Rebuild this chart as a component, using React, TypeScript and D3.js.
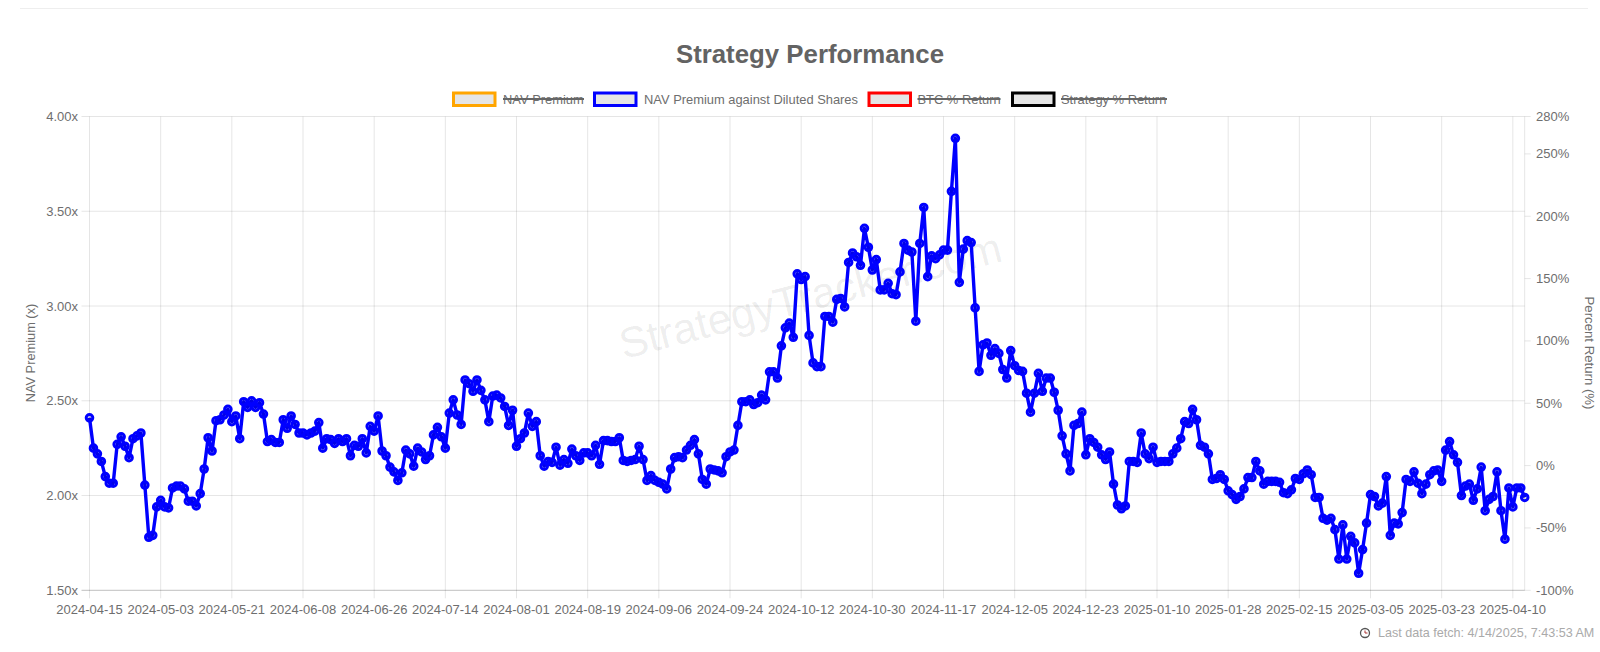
import React from "react";
import * as d3 from "d3";

const title = "Strategy Performance";
const tickDates = ["2024-04-15","2024-05-03","2024-05-21","2024-06-08","2024-06-26","2024-07-14","2024-08-01","2024-08-19","2024-09-06","2024-09-24","2024-10-12","2024-10-30","2024-11-17","2024-12-05","2024-12-23","2025-01-10","2025-01-28","2025-02-15","2025-03-05","2025-03-23","2025-04-10"];
const leftTicks = [1.5, 2, 2.5, 3, 3.5, 4];
const rightTicks = [-100, -50, 0, 50, 100, 150, 200, 250, 280];
const legendItems = [
  { label: "NAV Premium", color: "#ffa500", hidden: true },
  { label: "NAV Premium against Diluted Shares", color: "#0000ff", hidden: false },
  { label: "BTC % Return", color: "#ff0000", hidden: true },
  { label: "Strategy % Return", color: "#000000", hidden: true },
];

const navA = [2.41,2.25,2.22,2.18,2.10,2.065,2.065,2.27,2.31,2.26,2.20,2.30,2.315,2.33,2.055,1.78,1.79,1.94,1.975,1.94,1.935,2.04,2.05,2.05,2.035,1.97,1.97,1.945,2.01,2.14,2.305,2.235,2.395,2.40,2.425,2.455,2.39,2.42,2.30,2.495,2.465,2.50,2.465,2.49,2.43,2.285,2.295,2.28,2.28,2.40,2.355,2.42,2.375,2.33,2.33,2.32,2.33,2.34,2.385,2.25,2.30,2.295,2.275,2.30,2.285,2.30,2.21,2.265,2.26,2.30,2.225,2.365,2.34,2.42,2.235,2.21,2.15,2.125,2.08];
const navB = [2.12,2.24,2.22,2.155,2.25,2.23,2.19,2.21,2.32,2.36,2.31,2.25,2.435,2.505,2.425,2.375,2.61,2.59,2.55,2.61,2.555,2.505,2.39,2.525,2.53,2.515,2.47,2.37,2.45,2.26,2.30,2.33,2.435,2.365,2.39,2.21,2.155,2.18,2.175,2.255,2.16,2.19,2.17,2.245,2.21,2.185,2.225,2.225,2.21,2.265,2.165,2.29,2.29,2.285,2.285,2.305,2.185,2.18,2.185,2.19,2.26,2.19,2.08,2.105,2.08,2.07,2.06,2.035,2.14,2.20,2.205,2.20,2.24,2.265,2.295,2.22,2.085,2.06,2.14,2.135,2.13,2.12,2.205,2.23,2.24,2.37,2.495,2.495,2.505,2.48,2.49,2.53,2.505];
const navC = [2.653,2.653,2.62,2.79,2.885,2.91,2.835,3.17,3.14,3.155,2.845,2.70,2.68,2.68,2.945,2.945,2.915,3.035,3.04,2.995,3.23,3.28,3.26,3.215,3.41,3.31,3.19,3.245,3.085,3.085,3.12,3.065,3.06,3.18,3.33,3.295,3.285,2.92,3.33,3.52,3.155,3.265,3.25,3.27,3.295,3.295,3.605,3.885,3.125,3.30,3.345,3.335,2.99,2.655,2.795,2.805,2.74,2.775,2.75,2.665,2.62,2.765,2.685,2.66,2.655];
const navD = [2.54,2.44,2.54,2.645,2.55,2.62,2.62,2.545,2.45,2.315,2.22,2.13,2.37,2.38,2.44,2.215,2.30,2.28,2.255,2.215,2.19,2.23,2.06,1.95,1.93,1.945,2.18,2.18,2.175,2.33,2.22,2.195,2.255,2.175,2.18,2.18,2.18,2.22,2.25,2.30,2.39,2.38,2.455,2.40,2.265,2.255,2.22,2.085,2.09,2.11,2.085,2.025,2.005,1.98,1.995,2.035,2.095,2.095,2.18,2.13,2.06,2.075,2.075,2.075,2.07,2.015,2.01,2.03,2.09];
const navE = [2.085,2.115,2.135,2.11,1.99,1.99,1.88,1.87,1.88,1.82,1.665,1.845,1.665,1.785,1.75,1.59,1.715,1.855,2.005,1.995,1.945,1.96,2.10,1.79,1.855,1.85,1.91,2.085,2.075,2.125,2.065,2.01,2.06,2.11,2.13,2.135,2.075,2.24,2.285,2.215,2.175,2.00,2.05,2.06,1.975,2.035,2.15,1.92,1.98,1.995,2.125,1.92,1.77,2.04,1.94,2.04,2.04,1.99];

const navValues = [...navA, ...navB, ...navC, ...navD, ...navE];

const W = 1600, H = 652;
const plot = { left: 89.5, right: 1524.7, top: 116.5, bottom: 590.3 };
const fontFamily = '"Liberation Sans", Arial, sans-serif';
const textColor = "#6e6e6e";
const gridColor = "rgba(0,0,0,0.1)";

const fmtDay = d3.utcFormat("%Y-%m-%d");
const dates = d3.utcDay.range(new Date(Date.UTC(2024, 3, 15)), new Date(Date.UTC(2024, 3, 15 + navValues.length))).map(fmtDay);

export default function App() {
  const x = d3.scalePoint<string>().domain(dates).range([plot.left, plot.right]);
  const yL = d3.scaleLinear().domain([1.5, 4]).range([plot.bottom, plot.top]);
  const yR = d3.scaleLinear().domain([-100, 280]).range([plot.bottom, plot.top]);
  const line = d3.line<number>().x((_, i) => x(dates[i])!).y((d) => yL(d));
  const legendBoxes = [452, 593, 867.5, 1011];
  const legendTexts = [503, 644, 917.5, 1061];
  const legendWidths = [81, 0, 83, 106];
  return (
    <div style={{ position: "absolute", left: 0, top: 0 }}>
      <svg width={W} height={H} style={{ display: "block", background: "#fff" }} fontFamily={fontFamily}>
        <line x1={20} x2={1588} y1={8.5} y2={8.5} stroke="#eeeeee" />
        <text x={810} y={63} textAnchor="middle" fontSize={25.8} fontWeight={700} fill="#636363">{title}</text>

        {legendItems.map((d, i) => (
          <g key={d.label}>
            <rect x={legendBoxes[i] + 1.5} y={93} width={41.5} height={12.5} fill="#e5e5e5" stroke={d.color} strokeWidth={3} />
            <text x={legendTexts[i]} y={103.5} fontSize={12.9} fill={textColor}>{d.label}</text>
            {d.hidden && <line x1={legendTexts[i]} x2={legendTexts[i] + legendWidths[i]} y1={99} y2={99} stroke="#666" strokeWidth={2} />}
          </g>
        ))}

        <text x={0} y={0} transform="translate(814,310) rotate(-14.5)" textAnchor="middle" fontSize={42.8} fill="rgba(0,0,0,0.08)">StrategyTracker.com</text>

        {leftTicks.map((t) => (
          <g key={t}>
            <line x1={plot.left - 8} x2={plot.right} y1={yL(t)} y2={yL(t)} stroke={t === 1.5 ? "rgba(0,0,0,0.25)" : gridColor} />
            <text x={78} y={yL(t) + 4.5} textAnchor="end" fontSize={13} fill={textColor}>{t.toFixed(2)}x</text>
          </g>
        ))}
        {tickDates.map((t) => (
          <g key={t}>
            <line x1={x(t)} x2={x(t)} y1={plot.top} y2={plot.bottom + 8} stroke={gridColor} />
            <text x={x(t)} y={614} textAnchor="middle" fontSize={13} fill={textColor}>{t}</text>
          </g>
        ))}
        <line x1={plot.right} x2={plot.right} y1={plot.top} y2={plot.bottom} stroke={gridColor} />
        {rightTicks.map((t) => (
          <g key={t}>
            <line x1={plot.right} x2={plot.right + 6} y1={yR(t)} y2={yR(t)} stroke={gridColor} />
            <text x={1536} y={yR(t) + 4.5} fontSize={13} fill={textColor}>{t}%</text>
          </g>
        ))}

        <text transform="translate(35,353) rotate(-90)" textAnchor="middle" fontSize={12.8} fill={textColor}>NAV Premium (x)</text>
        <text transform="translate(1585,353) rotate(90)" textAnchor="middle" fontSize={13.2} fill={textColor}>Percent Return (%)</text>

        <path d={line(navValues)!} fill="none" stroke="#0000ff" strokeWidth={3.4} strokeLinejoin="round" />
        {navValues.map((v, i) => (
          <circle key={dates[i]} cx={x(dates[i])} cy={yL(v)} r={3.3} fill="rgba(0,0,60,0.12)" stroke="#0000ff" strokeWidth={3} />
        ))}

        <g transform="translate(1365,633)" fill="none" stroke="#555">
          <circle r={4.5} strokeWidth={1.3} />
          <path d="M0,-2.5V0H2.5" strokeWidth={1} stroke="#a33" />
        </g>
        <text x={1378} y={637} fontSize={12.6} fill="#aaaaaa">Last data fetch: 4/14/2025, 7:43:53 AM</text>
      </svg>
    </div>
  );
}
